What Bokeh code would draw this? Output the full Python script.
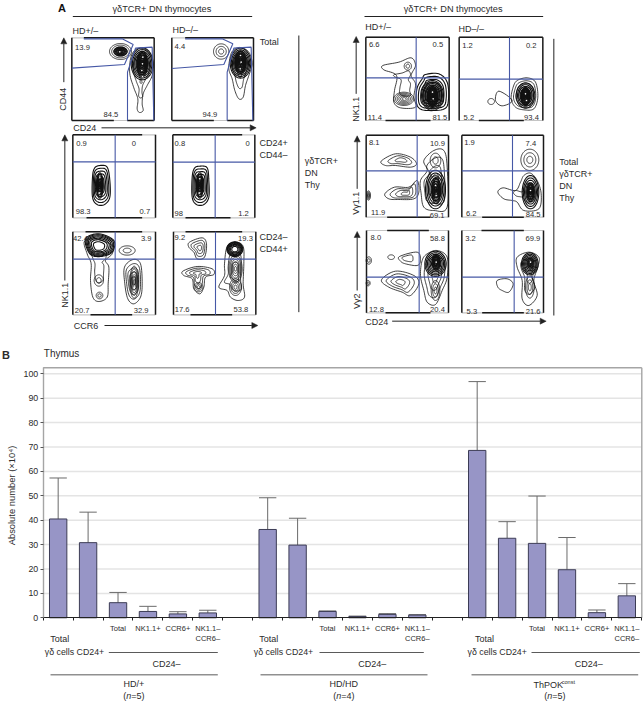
import math
import numpy as np
from bokeh.plotting import figure
from bokeh.layouts import column
from bokeh.models import ColumnDataSource, Range1d, LinearAxis, FixedTicker, Arrow, NormalHead
from bokeh.core.properties import value
from bokeh.embed import file_html
from bokeh.resources import INLINE

FONT = "Liberation Sans"
INK = "#2b2b2b"
BLUE = "#4658a6"

# ---------------- panel B data ----------------
GROUP_OFFSETS = [0, 7, 14]
GROUP_NAMES = ["HD/+", "HD/HD", "ThPOK"]
BAR_NAMES = ["Total", "CD24+", "CD24- Total", "NK1.1+", "CCR6+", "NK1.1-CCR6-"]
HD_HET_MEAN = [40.5, 30.8, 6.2, 2.6, 1.6, 2.0]
HD_HET_TOP = [57.3, 43.3, 10.4, 4.7, 2.5, 3.1]
HD_HD_MEAN = [36.2, 29.8, 2.6, 0.5, 1.4, 1.1]
HD_HD_TOP = [49.2, 40.8, 2.8, 0.7, 1.7, 1.3]
THPOK_MEAN = [68.6, 32.6, 30.5, 19.7, 2.1, 9.0]
THPOK_TOP = [96.8, 39.4, 49.9, 32.9, 3.2, 14.0]
Y_TICKS = list(range(0, 101, 10))


def E(cx, cy, rx, ry):
    return [(cx + rx * math.cos(a), cy + ry * math.sin(a)) for a in np.linspace(0, 2 * math.pi, 10, endpoint=False)]


# ---------------- panel A data (positions, in 3x-zoom pixels) ----------------
# top / bot: the stretch of the upper / lower frame edge that prints dark; the rest is faint.
PANELS = [
    dict(off=0, box=(214, 112, 461, 360), top=(250, 461), bot=[(214, 340), (380, 461)],
         gates=[[(250, 115), (365, 115), (398, 132), (372, 192), (214, 203)],
                [(381, 360), (381, 215), (405, 143), (455, 140), (460, 360)]],
         nums=[("13.9", 246, 140), ("84.5", 331, 342)],
         specks=[(358, 154), (427, 170), (426, 190), (424, 210), (426, 228)],
         blobs=[(E(360, 153, 33, 24), (360, 153), 5, 1.0),
                (E(360, 153, 20, 13), (360, 153), 8, 1.0),
                ([(420, 143), (445, 155), (458, 190), (455, 225), (440, 255), (428, 280), (425, 310), (428, 330), (417, 336), (410, 325), (412, 295), (400, 262), (388, 220), (390, 175), (402, 150)], (423, 205), 3, 1.0),
                (E(425, 190, 33, 48), (425, 190), 9, 1.0),
                (E(425, 190, 16, 38), (425, 190), 10, 1.0)]),
    dict(off=0, box=(514, 112, 759, 360), top=(554, 759), bot=[(514, 640), (680, 759)],
         gates=[[(554, 115), (665, 115), (697, 130), (670, 192), (514, 204)],
                [(680, 360), (680, 215), (700, 143), (752, 140), (757, 360)]],
         nums=[("4.4", 538, 138), ("94.9", 628, 343)],
         specks=[(720, 165), (722, 185), (719, 205)],
         blobs=[(E(662, 153, 23, 23), (662, 153), 3, 1.0),
                ([(720, 141), (745, 155), (755, 190), (745, 225), (735, 255), (728, 290), (715, 295), (703, 270), (695, 235), (685, 205), (690, 165), (700, 148)], (718, 200), 3, 1.0),
                (E(720, 188, 31, 45), (720, 188), 9, 1.0),
                (E(720, 185, 17, 34), (720, 185), 10, 1.0)]),
    dict(off=0, box=(217, 403, 465, 652), top=(217, 425), bot=[(258, 425)], cross=(344, 484),
         nums=[("0.9", 243, 430), ("0", 400, 428), ("98.3", 248, 634), ("0.7", 433, 634)],
         specks=[(298, 530), (296, 578)],
         blobs=[([(298, 495), (320, 500), (328, 540), (328, 590), (312, 612), (290, 612), (276, 590), (276, 530), (282, 503)], (298, 555), 7, 1.0),
                (E(298, 555, 10, 38), (298, 555), 8, 1.0)]),
    dict(off=0, box=(517, 403, 763, 652), top=(517, 725), bot=[(555, 690)], cross=(644, 485),
         nums=[("0.8", 538, 428), ("0", 741, 429), ("98", 535, 638), ("1.2", 729, 638)],
         specks=[(598, 535), (596, 578)],
         blobs=[([(598, 497), (620, 502), (625, 540), (625, 590), (610, 612), (588, 612), (575, 590), (575, 530), (582, 503)], (598, 555), 7, 1.0),
                (E(598, 555, 10, 38), (598, 555), 8, 1.0)]),
    dict(off=0, box=(217, 694, 465, 943), top=(255, 425), bot=[(270, 395)], cross=(344, 776),
         nums=[("42.4", 240, 714), ("3.9", 437, 714), ("20.7", 245, 930), ("32.9", 422, 930)],
         specks=[(400, 820), (402, 860)],
         blobs=[([(252, 722), (290, 716), (335, 735), (335, 760), (315, 780), (325, 800), (323, 850), (320, 890), (295, 903), (277, 890), (270, 840), (272, 790), (260, 760)], (295, 790), 2, 1.0),
                ([(255, 715), (295, 700), (340, 720), (335, 755), (300, 768), (268, 760)], (294, 738), 7, 2.0),
                (E(295, 840, 14, 17), (295, 840), 2, 1.0),
                (E(297, 885, 10, 10), (297, 885), 2, 1.0),
                (E(380, 750, 24, 14), (380, 750), 2, 1.0),
                ([(398, 777), (420, 790), (425, 850), (420, 890), (400, 910), (382, 895), (373, 850), (372, 800)], (400, 840), 5, 1.0),
                (E(401, 845, 13, 48), (401, 845), 6, 1.0)]),
    dict(off=0, box=(519, 694, 766, 943), top=(555, 725), bot=[(570, 695)], cross=(645, 776),
         nums=[("9.2", 538, 711), ("19.3", 735, 713), ("17.6", 545, 928), ("53.8", 721, 928)],
         specks=[(703, 745)],
         blobs=[([(567, 725), (605, 712), (618, 730), (612, 770), (590, 775), (580, 755), (565, 740)], (598, 742), 4, 1.0),
                ([(547, 812), (590, 798), (635, 805), (640, 822), (615, 830), (610, 860), (598, 880), (580, 865), (575, 835), (550, 825)], (590, 818), 4, 1.0),
                (E(594, 860, 13, 14), (594, 860), 3, 1.0),
                ([(680, 738), (705, 725), (728, 738), (730, 790), (728, 850), (732, 890), (712, 900), (690, 890), (680, 870), (655, 860), (672, 825), (672, 790)], (705, 815), 3, 1.0),
                (E(703, 746, 24, 22), (703, 746), 7, 2.0),
                (E(705, 805, 20, 42), (705, 805), 6, 1.0),
                (E(705, 860, 18, 25), (705, 860), 4, 1.0)]),
    dict(off=320, box=(136, 110, 386, 360), top=(136, 386), bot=[(195, 330)], cross=(287, 232),
         nums=[("6.6", 161, 131), ("0.5", 352, 131), ("11.4", 163, 350), ("81.5", 358, 350)],
         specks=[(252, 296), (336, 275), (338, 295)],
         blobs=[([(187, 195), (235, 185), (272, 172), (285, 195), (272, 225), (285, 250), (280, 290), (285, 320), (240, 322), (220, 305), (222, 270), (228, 225), (190, 208)], (255, 250), 2, 1.0),
                (E(262, 197, 11, 12), (262, 197), 2, 1.0),
                (E(250, 295, 30, 20), (250, 295), 6, 1.0),
                ([(315, 222), (355, 220), (380, 245), (384, 295), (372, 325), (320, 330), (295, 322), (287, 300), (290, 262), (305, 235)], (335, 283), 7, 1.0),
                (E(336, 285, 33, 45), (336, 285), 10, 1.0),
                (E(336, 288, 16, 30), (336, 288), 10, 1.0)]),
    dict(off=320, box=(416, 110, 667, 360), top=(416, 667), bot=[(475, 610)], cross=(567, 236),
         nums=[("1.2", 441, 136), ("0.2", 632, 136), ("5.2", 445, 352), ("93.4", 633, 352)],
         specks=[(615, 280), (618, 300)],
         blobs=[([(590, 240), (620, 232), (645, 245), (652, 290), (640, 325), (610, 328), (585, 320), (572, 295), (578, 260)], (615, 285), 6, 1.0),
                (E(615, 285, 28, 38), (615, 285), 7, 1.0),
                (E(615, 288, 14, 27), (615, 288), 10, 1.0),
                ([(535, 272), (575, 300), (545, 316), (525, 300)], (548, 298), 1, 1.0),
                (E(512, 303, 10, 9), (512, 303), 1, 1.0)]),
    dict(off=320, box=(137, 404, 384, 650), top=(137, 384), bot=[(200, 330)], cross=(290, 511),
         nums=[("8.1", 161, 425), ("10.9", 351, 428), ("11.9", 173, 637), ("69.1", 350, 644)],
         specks=[(345, 555), (347, 585)],
         blobs=[([(182, 482), (225, 460), (270, 470), (288, 490), (270, 500), (225, 495), (195, 495)], (245, 478), 3, 1.0),
                ([(193, 580), (222, 560), (265, 560), (290, 540), (295, 575), (280, 595), (235, 597), (205, 595)], (258, 580), 4, 1.0),
                ([(310, 480), (340, 450), (370, 450), (380, 500), (380, 620), (340, 630), (310, 620), (302, 580), (300, 540), (320, 510)], (345, 545), 4, 1.0),
                (E(345, 567, 30, 58), (345, 567), 7, 1.0),
                (E(347, 570, 13, 40), (347, 570), 7, 1.0),
                (E(345, 480, 16, 22), (345, 480), 2, 1.0),
                (E(144, 585, 6, 14), (144, 585), 4, 1.0)]),
    dict(off=320, box=(424, 404, 669, 650), top=(424, 669), bot=[(485, 610)], cross=(576, 511),
         nums=[("1.9", 447, 425), ("7.4", 631, 428), ("6.2", 452, 640), ("84.5", 638, 642)],
         specks=[(630, 570)],
         blobs=[(E(628, 478, 27, 32), (628, 478), 3, 1.0),
                ([(630, 518), (650, 540), (662, 580), (655, 625), (610, 630), (590, 605), (575, 600), (550, 595), (532, 575), (548, 562), (585, 570), (600, 545), (610, 525)], (625, 578), 2, 1.0),
                (E(630, 575, 25, 50), (630, 575), 7, 1.0),
                (E(630, 575, 11, 27), (630, 575), 7, 1.0)]),
    dict(off=320, box=(138, 690, 384, 937), top=(200, 325), bot=[(195, 330)], cross=(296, 830),
         nums=[("8.0", 166, 712), ("58.8", 351, 714), ("12.8", 168, 928), ("20.4", 351, 926)],
         specks=[(347, 785)],
         blobs=[([(237, 768), (290, 755), (300, 780), (290, 795), (255, 790), (240, 782)], (255, 772), 2, 1.0),
                (E(212, 770, 10, 7), (212, 770), 1, 1.0),
                (E(145, 780, 8, 11), (145, 780), 2, 1.0),
                (E(143, 848, 6, 8), (143, 848), 2, 1.0),
                ([(183, 838), (225, 812), (280, 825), (295, 850), (270, 885), (245, 875), (205, 860)], (240, 845), 4, 1.0),
                ([(320, 760), (350, 750), (380, 770), (380, 830), (365, 870), (345, 912), (320, 905), (310, 870), (300, 825), (305, 780)], (345, 825), 4, 1.0),
                (E(345, 790, 32, 38), (345, 790), 8, 1.0),
                (E(347, 785, 12, 24), (347, 785), 7, 1.0),
                (E(345, 870, 13, 30), (345, 870), 3, 1.0)]),
    dict(off=320, box=(424, 690, 669, 937), top=(483, 610), bot=[(485, 610)], cross=(581, 830),
         nums=[("3.2", 450, 715), ("69.9", 637, 714), ("5.3", 454, 932), ("21.6", 638, 932)],
         specks=[(630, 785)],
         blobs=[([(590, 770), (625, 755), (655, 770), (652, 800), (640, 840), (650, 885), (625, 915), (605, 895), (605, 840), (590, 800)], (628, 815), 3, 1.0),
                (E(628, 790, 25, 33), (628, 790), 8, 1.0),
                (E(630, 788, 9, 18), (630, 788), 6, 1.0),
                (E(628, 860, 13, 33), (628, 860), 3, 1.0),
                ([(530, 840), (560, 835), (578, 850), (565, 875), (545, 870), (532, 860)], (552, 855), 1, 1.0)]),
]

# label, x, y (3x-zoom pixels), offset, font size, anchor
A_TEXTS = [
    ("γδTCR+ DN thymocytes", 484, 25, 0, 9.2, "center"),
    ("γδTCR+ DN thymocytes", 398, 25, 320, 9.2, "center"),
    ("HD+/–", 216, 90, 0, 9, "left"), ("HD–/–", 516, 87, 0, 9, "left"),
    ("HD+/–", 134, 80, 320, 9, "left"), ("HD–/–", 414, 84, 320, 9, "left"),
    ("Total", 778, 125, 0, 9, "left"), ("CD24+", 777, 426, 0, 9, "left"),
    ("CD44–", 777, 463, 0, 9, "left"), ("CD24–", 777, 708, 0, 9, "left"),
    ("CD44+", 777, 745, 0, 9, "left"), ("γδTCR+", 913, 480, 0, 9, "left"),
    ("DN", 913, 517, 0, 9, "left"), ("Thy", 913, 553, 0, 9, "left"),
    ("Total", 716, 483, 320, 9, "left"), ("γδTCR+", 716, 519, 320, 9, "left"),
    ("DN", 716, 555, 320, 9, "left"), ("Thy", 716, 592, 320, 9, "left"),
    ("CD24", 218, 382, 0, 9, "left"), ("CCR6", 220, 975, 0, 9, "left"),
    ("CD24", 134, 965, 320, 9, "left"),
]
A_VTEXTS = [("CD44", 187, 296, 0), ("NK1.1", 193, 884, 0), ("NK1.1", 105, 326, 320),
            ("Vγ1.1", 107, 608, 320), ("Vγ2", 110, 902, 320)]
A_RULES = [(217, 48, 755, 48, 0), (132, 48, 668, 48, 320), (895, 105, 895, 935, 0), (700, 115, 700, 945, 320)]
A_ARROWS = [(190, 245, 190, 112, 0), (303, 382, 767, 382, 0), (193, 840, 193, 403, 0), (312, 975, 772, 975, 0),
            (107, 280, 107, 108, 320), (110, 565, 110, 406, 320), (110, 870, 110, 693, 320), (215, 962, 677, 962, 320)]
SMALL_LABELS = [("Total", 2, 848), ("NK1.1+", 3, 849), ("CCR6+", 4, 849), ("NK1.1–", 5, 848), ("CCR6–", 5, 878)]


def smooth(pts, per=8):
    pts = np.array(pts, float)
    n = len(pts)
    out = []
    for i in range(n):
        p0, p1, p2, p3 = pts[(i - 1) % n], pts[i], pts[(i + 1) % n], pts[(i + 2) % n]
        for t in np.linspace(0, 1, per, endpoint=False):
            out.append(0.5 * ((2 * p1) + (-p0 + p2) * t + (2 * p0 - 5 * p1 + 4 * p2 - p3) * t ** 2 + (-p0 + 3 * p1 - 3 * p2 + p3) * t ** 3))
    out.append(out[0])
    return np.array(out)


W, H_A, H_B = 643, 345, 356
top = figure(width=W, height=H_A, x_range=Range1d(0, 643), y_range=Range1d(345, 0),
             x_axis_type=None, y_axis_type=None, toolbar_location=None, output_backend="svg",
             min_border=0, outline_line_color=None)
top.grid.visible = False

cx, cy, cw, gx, gy, dx, dy, fx, fy = [], [], [], [], [], [], [], [], []
tx, ty, tt, sx, sy = [], [], [], [], []
for pn in PANELS:
    o = pn["off"]
    x0, y0, x1, y1 = pn["box"]
    for a in (x0, x1):
        dx.append([o + a / 3, o + a / 3]); dy.append([y0 / 3, y1 / 3])
    for b in (y0, y1):
        fx.append([o + x0 / 3, o + x1 / 3]); fy.append([b / 3, b / 3])
    a, b = pn["top"]
    dx.append([o + a / 3, o + b / 3]); dy.append([y0 / 3, y0 / 3])
    for a, b in pn["bot"]:
        dx.append([o + a / 3, o + b / 3]); dy.append([y1 / 3, y1 / 3])
    for g in pn.get("gates", []):
        gx.append([o + q[0] / 3 for q in g])
        gy.append([q[1] / 3 for q in g])
    if "cross" in pn:
        a, b = pn["cross"]
        gx += [[o + a / 3, o + a / 3], [o + x0 / 3, o + x1 / 3]]
        gy += [[y0 / 3, y1 / 3], [b / 3, b / 3]]
    for outline, core, n, pw in pn["blobs"]:
        curve = smooth(outline)
        c = np.array(core, float)
        for i in range(n):
            s = (1 - i / n) ** (1 / pw) if n > 1 else 1.0
            q = c + (curve - c) * s
            cx.append(list(o + q[:, 0] / 3))
            cy.append(list(q[:, 1] / 3))
            cw.append(1.1 if n >= 7 else 0.8)
    for a, b in pn["specks"]:
        sx.append(o + a / 3); sy.append(b / 3)
    for t, a, b in pn["nums"]:
        tx.append(o + a / 3); ty.append(b / 3); tt.append(t)

top.multi_line("x", "y", line_width="w", line_color="#111111",
               source=ColumnDataSource(dict(x=cx, y=cy, w=cw)))
top.scatter(sx, sy, size=1.6, marker="circle", fill_color="white", line_color=None)
top.multi_line(fx, fy, line_color="#c4c4c4", line_width=1.2)
top.multi_line(dx, dy, line_color="#1a1a1a", line_width=1.5)
top.multi_line(gx, gy, line_color=BLUE, line_width=1.1)
top.text(tx, ty, text=tt, text_font=value(FONT), text_font_size="7.6px", text_color=INK,
         text_align="center", text_baseline="middle")
for t, a, b, o, fs, al in A_TEXTS:
    top.text([o + a / 3], [b / 3], text=[t], text_font=value(FONT), text_font_size=f"{fs}px", text_color=INK,
             text_align=al, text_baseline="middle")
for t, a, b, o in A_VTEXTS:
    top.text([o + a / 3], [b / 3], text=[t], angle=math.pi / 2, text_font=value(FONT), text_font_size="9px",
             text_color=INK, text_align="center", text_baseline="middle")
top.text([57.5], [7.5], text=["A"], text_font=value(FONT), text_font_style="bold", text_font_size="11px",
         text_color="#111111", text_align="left", text_baseline="middle")
for a, b, c, d, o in A_RULES:
    top.line([o + a / 3, o + c / 3], [b / 3, d / 3], line_color="#222222", line_width=1)
for a, b, c, d, o in A_ARROWS:
    top.add_layout(Arrow(end=NormalHead(size=6, line_color="#222222", fill_color="#222222", line_width=0.5),
                         x_start=o + a / 3, y_start=b / 3, x_end=o + c / 3, y_end=d / 3,
                         line_color="#222222", line_width=1))

# ---------------- panel B ----------------
X0, DX, Y0, DY = 42.7, 29.93, 617.3, 2.44


def xv(px):
    return (px - X0) / DX


def yv(py):
    return (Y0 - py) / DY


def zy(z):
    return yv(345 + z / 3)


bot = figure(width=W, height=H_B, x_range=Range1d(xv(0), xv(643)), y_range=Range1d(yv(701), yv(345)),
             x_axis_type=None, y_axis_type=None, toolbar_location=None, output_backend="svg",
             min_border=0, outline_line_color=None)
bot.grid.visible = False

bot.segment([0] * 10, Y_TICKS[1:], [20] * 10, Y_TICKS[1:], line_color="#e4e4e4", line_width=1.5)
TOPV = yv(367.3)
bot.segment([0, 20], [TOPV, 0], [20, 20], [TOPV, TOPV], line_color="#a5a5a5", line_width=1.4)

means = HD_HET_MEAN + HD_HD_MEAN + THPOK_MEAN
tops = HD_HET_TOP + HD_HD_TOP + THPOK_TOP
xs = [g + i + 0.5 for g in GROUP_OFFSETS for i in range(6)]
src = ColumnDataSource(dict(x=xs, mean=means, top=tops, l=[v - 0.29 for v in xs], r=[v + 0.29 for v in xs]))
bot.segment("x", "mean", "x", "top", source=src, line_color="#6a6a6a", line_width=1)
bot.segment("l", "top", "r", "top", source=src, line_color="#6a6a6a", line_width=1)
bot.vbar(x="x", width=0.58, bottom=0, top="mean", source=src, fill_color="#9795c6", line_color="#3c3c55", line_width=1)

yax = LinearAxis(fixed_location=0, ticker=FixedTicker(ticks=Y_TICKS), bounds=(0, TOPV),
                 axis_line_color="#a5a5a5", axis_line_width=1.4, major_tick_line_color="#555555",
                 major_tick_in=0, major_tick_out=3, minor_tick_line_color=None,
                 major_label_text_font=FONT, major_label_text_font_size="8.8px", major_label_text_color=INK,
                 major_label_standoff=2)
bot.add_layout(yax, "left")
xax = LinearAxis(fixed_location=0, ticker=FixedTicker(ticks=list(range(21))), bounds=(0, 20),
                 axis_line_color="#222222", axis_line_width=1.1, major_tick_line_color="#222222",
                 major_tick_in=0, major_tick_out=3, minor_tick_line_color=None,
                 major_label_overrides={i: "" for i in range(21)})
bot.add_layout(xax, "below")


def btext(t, x, y, size=9, align="center", style="normal", angle=0.0):
    bot.text([x], [y], text=[t], angle=angle, text_font=value(FONT), text_font_size=f"{size}px",
             text_font_style=style, text_color=INK, text_align=align, text_baseline="middle")


btext("B", xv(1.5), zy(28), size=11, align="left", style="bold")
btext("Thymus", xv(43.3), zy(25), size=10, align="left")
btext("Absolute number (×10⁴)", xv(10.7), zy(450), size=9.4, angle=math.pi / 2)

G_TOTAL_X = [59.3, 268.3, 484.0]
G_CELL_X = [74.0, 283.0, 496.7]
G_LINE1 = [(108.3, 217.3), (319.0, 423.3), (531.0, 639.3)]
G_CD24_X = [166.0, 371.7, 588.3]
G_LINE2 = [(50.0, 217.3), (260.0, 427.0), (471.0, 637.7)]
G_NAME_X = [133.3, 343.3, 554.3]
G_N = [5, 4, 5]
for k, g in enumerate(GROUP_OFFSETS):
    for t, i, z in SMALL_LABELS:
        btext(t, g + i + 0.5, zy(z), size=7.5)
    btext("Total", xv(G_TOTAL_X[k]), zy(879))
    btext("γδ cells CD24+", xv(G_CELL_X[k]), zy(920), size=8.8)
    bot.line([xv(G_LINE1[k][0]), xv(G_LINE1[k][1])], [zy(921)] * 2, line_color="#5a5a5a", line_width=1)
    btext("CD24–", xv(G_CD24_X[k]), zy(955))
    bot.line([xv(G_LINE2[k][0]), xv(G_LINE2[k][1])], [zy(988)] * 2, line_color="#5a5a5a", line_width=1)
    c = G_NAME_X[k]
    if k < 2:
        btext(GROUP_NAMES[k], xv(c), zy(1014))
    else:
        btext("ThPOK", xv(c - 6.5), zy(1019))
        btext("const", xv(c + 7), zy(1009), size=5.5, align="left")
    s = c - 10.5
    ny = zy(1050)
    btext("(", xv(s), ny, align="left")
    btext("n", xv(s + 3), ny, align="left", style="italic")
    btext(f"={G_N[k]})", xv(s + 8), ny, align="left")

page = column(top, bot, spacing=0)
open("out.html", "w").write(file_html(page, INLINE))
